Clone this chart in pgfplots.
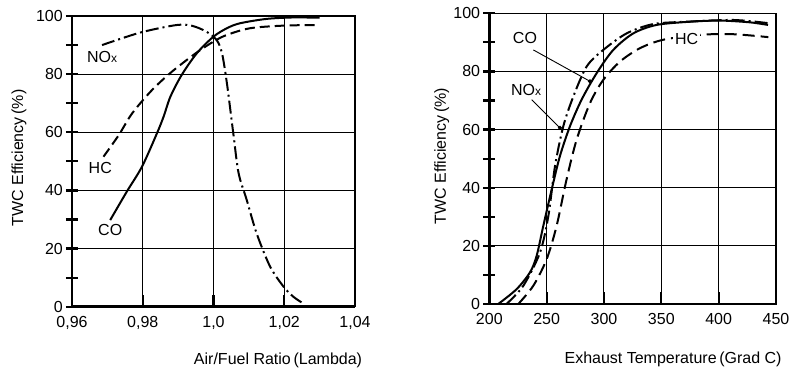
\documentclass[border=0pt]{standalone}
\usepackage{fontspec}
\setmainfont{Liberation Sans}
\usepackage{pgfplots}
\pgfplotsset{compat=1.18}
\begin{document}
\begin{tikzpicture}[x=1pt,y=1pt]
\pgfplotsset{
  common/.style={
    scale only axis,
    font=\fontsize{16}{19}\selectfont,
    /pgf/number format/assume math mode=true,
    ymin=0, ymax=100,
    ytick={0,20,40,60,80,100},
    minor ytick={10,30,50,70,90},
    grid=major,
    major grid style={black, line width=1pt},
    axis line style={black, line width=1.2pt},
    xtick pos=bottom, ytick pos=left,
    ytick align=center,
    xtick align=inside,
    major tick length=12pt,
    minor tick length=12pt,
    every tick/.style={black, line width=2.2pt},
    minor tick style={black, line width=2.2pt},
    yticklabel style={inner sep=1pt, xshift=-2pt},
    xticklabel style={yshift=-6pt},
    clip=false,
  },
  co/.style={black, line width=2pt, smooth},
  hc/.style={black, line width=2pt, smooth, dash pattern=on 10pt off 5pt},
  nox/.style={black, line width=2pt, smooth, dash pattern=on 13pt off 4pt on 2pt off 4pt},
}
\newcommand{\NOx}{NO{\fontsize{12}{13}\selectfont x}}
\path[use as bounding box] (0,0) rectangle (795,372);
% Left axis
\begin{axis}[common,
  at={(72pt,65.3pt)}, anchor=south west,
  width=283pt, height=290.7pt,
  xmin=0.96, xmax=1.04,
  xtick={0.96,0.98,1.0,1.02,1.04},
  xticklabels={{0,96},{0,98},{1,0},{1,02},{1,04}},
  xlabel={Air/Fuel Ratio\,(Lambda)},
  ylabel={TWC Efficiency\,(\%)},
  xlabel style={at={(axis description cs:0.728,-0.186)}, anchor=center},
  ylabel style={at={(axis description cs:-0.187,0.512)}, anchor=center, rotate=0},
]
\draw[line width=2.8pt] (rel axis cs:0,1) -- (rel axis cs:0,0) -- (rel axis cs:1,0);
\addplot[co] coordinates {(0.9708,29.8) (0.9755,39.6) (0.9798,48.2) (0.984,59.6) (0.9859,65.4) (0.9878,72.2) (0.991,79.7) (0.9953,87.2) (1.0,92.9) (1.0038,95.8) (1.0075,97.5) (1.015,99) (1.0226,99.5) (1.030,99.4)};
\addplot[hc] coordinates {(0.9689,51.6) (0.9732,59) (0.977,66.5) (0.9826,74.5) (0.9882,80.8) (0.995,87.2) (1.0,91.2) (1.0038,93.5) (1.0104,95.8) (1.02,96.7) (1.030,96.9)};
\addplot[nox] coordinates {(0.9685,90) (0.9793,94.3) (0.9896,96.9) (0.994,96.6) (0.998,94.6) (1.0009,91.7) (1.0024,87.2) (1.0038,76.8) (1.0056,59.6) (1.0071,45.9) (1.0094,36.7) (1.0122,25.2) (1.016,13.8) (1.0198,6.9) (1.0226,3.4) (1.0254,1.1)};
\node at (axis cs:0.9685,86) {\NOx};
\node at (axis cs:0.968,47.6) {HC};
\node at (axis cs:0.9708,26.4) {CO};
\end{axis}
% Right axis
\begin{axis}[common,
  at={(489.3pt,68pt)}, anchor=south west,
  width=286.7pt, height=290.7pt,
  xmin=200, xmax=450,
  xtick={200,250,300,350,400,450},
  xlabel={Exhaust Temperature\,(Grad C)},
  ylabel={TWC Efficiency\,(\%)},
  xlabel style={at={(axis description cs:0.641,-0.192)}, anchor=center},
  ylabel style={at={(axis description cs:-0.166,0.509)}, anchor=center, rotate=0},
]
\draw[line width=2.8pt] (rel axis cs:0,1) -- (rel axis cs:0,0) -- (rel axis cs:1,0);
\addplot[co] coordinates {(207.8,0) (223.8,5.1) (235.5,10.9) (241.3,16.6) (247.1,26.9) (254.4,39.4) (261.6,50.9) (270.3,61.1) (280.5,70.3) (293.6,79.4) (308.1,87.4) (325.6,93.1) (345.9,96) (375,97.1) (401,97.5) (427,96.9) (443,96)};
\addplot[nox] coordinates {(215,0) (229.7,6.3) (244.2,17.7) (251.5,30.3) (257.3,47.4) (264.5,61.1) (273.3,71.4) (284.9,81.7) (299.4,87.4) (319.8,93.1) (343,96.3) (372,97.1) (412.8,97.7) (443.3,96.6)};
\addplot[hc, dash pattern=on 12pt off 6pt] coordinates {(225.3,0) (238.4,6.3) (250,15.4) (258.7,26.9) (267.4,42.9) (276.2,56.6) (287.8,69.1) (299.4,77.1) (314,83.4) (331.4,88) (351.7,90.9) (383.7,92.6) (412.8,92.8) (443.3,91.8)};
\addplot[black, line width=0.9pt, mark=*, mark size=1.6pt, mark indices={2}] coordinates {(238.4,87.4) (287.8,76.6)};
\addplot[black, line width=0.9pt, mark=*, mark size=1.6pt, mark indices={2}] coordinates {(236.9,70.3) (261.6,60.6)};
\node at (axis cs:231.1,91.5) {CO};
\node at (axis cs:232,73.6) {\NOx};
\node[fill=white, inner sep=2pt] at (axis cs:372,91.2) {HC};
\end{axis}
\end{tikzpicture}
\end{document}
